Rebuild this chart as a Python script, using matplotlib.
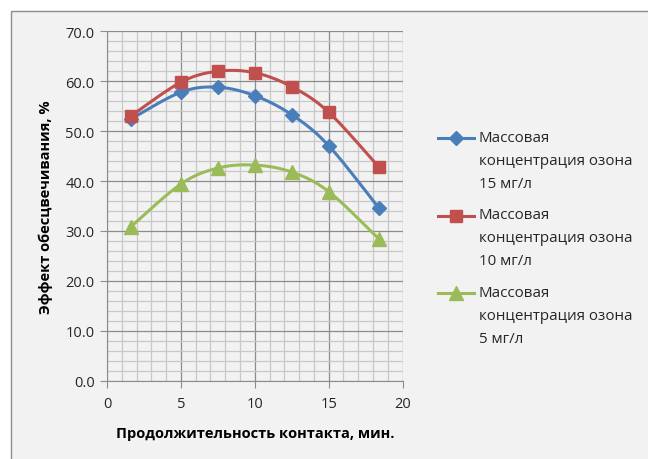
import numpy as np
import matplotlib.pyplot as plt
from matplotlib.lines import Line2D
from matplotlib.patches import Rectangle
from matplotlib.ticker import MultipleLocator, FormatStrFormatter

plt.rcParams['font.family'] = ['Open Sans', 'DejaVu Sans']

# contact time, min
time_min = [1.6, 5, 7.5, 10, 12.5, 15, 18.4]

# decolouring effect, %
effect_15 = [52.4, 57.8, 58.8, 57.1, 53.3, 47.1, 34.6]
effect_10 = [53.0, 59.8, 62.0, 61.7, 58.9, 53.8, 42.8]
effect_5 = [30.8, 39.4, 42.6, 43.2, 41.8, 37.9, 28.4]

labels = [
    "Массовая\nконцентрация озона\n15 мг/л",
    "Массовая\nконцентрация озона\n10 мг/л",
    "Массовая\nконцентрация озона\n5 мг/л",
]
colors = ["#4a7ebb", "#c0504d", "#9bbb59"]
markers = ["D", "s", "^"]
msizes = [7, 9, 10]


# Catmull-Rom curve through the points, like Excel's smoothed line
def smooth(x, y, n=30):
    p = np.column_stack([x, y]).astype(float)
    p = np.vstack([p[0], p, p[-1]])
    out = []
    t = np.linspace(0, 1, n)[:, None]
    for i in range(1, len(p) - 2):
        p0, p1, p2, p3 = p[i - 1], p[i], p[i + 1], p[i + 2]
        seg = 0.5 * ((2 * p1) + (-p0 + p2) * t
                     + (2 * p0 - 5 * p1 + 4 * p2 - p3) * t ** 2
                     + (-p0 + 3 * p1 - 3 * p2 + p3) * t ** 3)
        out.append(seg)
    out = np.vstack(out)
    return out[:, 0], out[:, 1]


W, H = 648, 460
fig = plt.figure(figsize=(W / 100, H / 100), dpi=100, facecolor="white")
fig.add_artist(Rectangle((11 / W, -0.01), 1.0, 1 - 11.5 / H + 0.01,
                         transform=fig.transFigure, facecolor="#f2f2f2",
                         edgecolor="#8c8c8c", lw=1.0, zorder=-10))

ax = fig.add_axes([107 / W, 1 - 381.7 / H, 295.5 / W, 349.4 / H])
ax.set_facecolor("#f2f2f2")

series = [effect_15, effect_10, effect_5]
for yv, c, m, ms in zip(series, colors, markers, msizes):
    sx, sy = smooth(time_min, yv)
    ax.plot(sx, sy, color=c, lw=2.2, zorder=3, solid_capstyle="round")
    ax.plot(time_min, yv, ls="none", marker=m, ms=ms, color=c,
            markeredgecolor=c, zorder=4)

ax.set_xlim(0, 20)
ax.set_ylim(0, 70)
ax.xaxis.set_major_locator(MultipleLocator(5))
ax.xaxis.set_minor_locator(MultipleLocator(1))
ax.yaxis.set_major_locator(MultipleLocator(10))
ax.yaxis.set_minor_locator(MultipleLocator(2))
ax.yaxis.set_major_formatter(FormatStrFormatter("%.1f"))

ax.grid(which="major", color="#8c8c8c", lw=0.9)
ax.grid(which="minor", color="#c8c8c8", lw=0.9)
ax.set_axisbelow(True)

for s in ["top", "right"]:
    ax.spines[s].set_visible(False)
for s in ["left", "bottom"]:
    ax.spines[s].set_color("#8c8c8c")

ax.tick_params(which="major", length=5, color="#8c8c8c", labelsize=10.5,
               labelcolor="#262626")
ax.tick_params(which="minor", length=0)
ax.tick_params(axis="x", pad=6)
ax.tick_params(axis="y", pad=4)

ax.set_xlabel("Продолжительность контакта, мин.", fontsize=10.5,
              fontweight="bold", labelpad=11)
ax.set_ylabel("Эффект обесцвечивания, %", fontsize=10.5,
              fontweight="bold", labelpad=9)

# legend drawn by hand so the marker sits on the first text line
for i, (lab, c, m, ms) in enumerate(zip(labels, colors, markers, msizes)):
    yc = 1 - (139 + i * 77.5) / H
    fig.add_artist(Line2D([438 / W, 474 / W], [yc, yc], color=c, lw=2.2,
                          transform=fig.transFigure))
    fig.add_artist(Line2D([456 / W], [yc], color=c, marker=m, ms=ms,
                          ls="none", transform=fig.transFigure))
    fig.text(479 / W, yc + 8 / H, lab, fontsize=10.9, va="top",
             ha="left", linespacing=1.72, color="#262626")

fig.savefig("out.png", dpi=100, facecolor=fig.get_facecolor())
